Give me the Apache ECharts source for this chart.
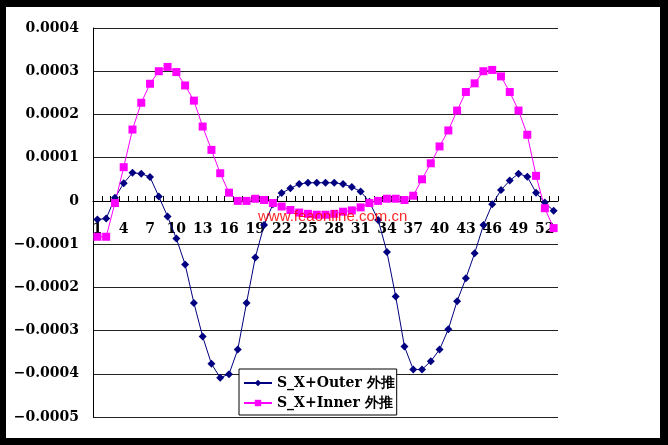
<!DOCTYPE html>
<html>
<head>
<meta charset="utf-8">
<script src="https://cdn.jsdelivr.net/npm/echarts@6/dist/echarts.min.js"></script>
<style>
html,body{margin:0;padding:0;background:#000;}
#chart{width:668px;height:445px;}
</style>
</head>
<body>
<div id="chart"></div>
<script>
const categories = [];
for (let i = 1; i <= 53; i++) categories.push(String(i));

const outerName = 'S_X+Outer 外推';
const innerName = 'S_X+Inner 外推';

const outerValues = [
  -0.000043, -0.000041, 0.000007, 0.000041, 0.000065, 0.000063, 0.000055, 0.000010, -0.000036, -0.000087,
  -0.000147, -0.000236, -0.000314, -0.000377, -0.000409, -0.000401, -0.000344, -0.000236, -0.000131, -0.000056,
  -0.000008, 0.000018, 0.000029, 0.000039, 0.000042, 0.000042, 0.000042, 0.000042, 0.000039, 0.000032,
  0.000022, -0.000002, -0.000044, -0.000118, -0.000221, -0.000337, -0.000390, -0.000390, -0.000371, -0.000344,
  -0.000297, -0.000232, -0.000179, -0.000121, -0.000056, -0.000008, 0.000025, 0.000047, 0.000063, 0.000056,
  0.000019, -0.000004, -0.000023
];

const innerValues = [
  -0.000083, -0.000083, -0.000005, 0.000078, 0.000165, 0.000227, 0.000271, 0.000300, 0.000310, 0.000298,
  0.000267, 0.000232, 0.000172, 0.000118, 0.000064, 0.000019, 0.000000, 0.000000, 0.000005, 0.000002,
  -0.000005, -0.000013, -0.000021, -0.000027, -0.000030, -0.000032, -0.000032, -0.000030, -0.000025, -0.000022,
  -0.000015, -0.000005, 0.000000, 0.000005, 0.000005, 0.000002, 0.000012, 0.000050, 0.000087, 0.000126,
  0.000163, 0.000209, 0.000252, 0.000272, 0.000300, 0.000303, 0.000288, 0.000252, 0.000209, 0.000153,
  0.000058, -0.000017, -0.000063
];

const watermark = 'www.feaonline.com.cn';

const Y_MIN = -0.0005, Y_MAX = 0.0004;
const GRID_TOP = 28, GRID_H = 389;

const chart = echarts.init(document.getElementById('chart'));
const labelFont = {fontFamily: 'DejaVu Serif', fontWeight: 'bold', fontSize: 14, color: '#000'};

chart.setOption({
  backgroundColor: '#000',
  animation: false,
  graphic: [
    {type: 'rect', left: 6, top: 7, z: -10, shape: {width: 654, height: 431}, style: {fill: '#fff'}},
    {type: 'text', left: 258, top: 209, z: 100,
     style: {text: watermark, fill: 'rgba(255,0,0,0.85)', font: '15px "Liberation Sans"'}}
  ],
  grid: {left: 93, top: GRID_TOP, width: 465, height: GRID_H},
  legend: {
    orient: 'vertical', left: 239, top: 369,
    backgroundColor: '#fff', borderColor: '#000', borderWidth: 1,
    padding: [7, 2, 5, 4], itemGap: 6, itemWidth: 28, itemHeight: 8,
    textStyle: {fontFamily: 'DejaVu Serif', fontWeight: 'bold', fontSize: 14, color: '#000'},
    data: [outerName, innerName]
  },
  xAxis: {
    type: 'category', data: categories, boundaryGap: true, position: 'bottom',
    offset: -Math.round(GRID_H * (0 - Y_MIN) / (Y_MAX - Y_MIN)),
    axisLine: {onZero: false, lineStyle: {color: '#000', width: 1}},
    axisTick: {show: true, inside: true, length: 5, interval: 0, lineStyle: {color: '#000'}},
    axisLabel: Object.assign({interval: 2, margin: 21}, labelFont),
    splitLine: {show: false}
  },
  yAxis: {
    type: 'value', min: Y_MIN, max: Y_MAX, interval: 0.0001,
    axisLine: {show: true, lineStyle: {color: '#000'}},
    axisTick: {show: false},
    splitLine: {show: true, lineStyle: {color: '#222', width: 1}},
    axisLabel: Object.assign({
      margin: 14, padding: [8, 0, 0, 0],
      formatter: v => Math.abs(v) < 1e-12 ? '0' : (v < 0 ? '\u2212' : '') + Math.abs(v).toFixed(4)
    }, labelFont)
  },
  series: [
    {name: outerName, type: 'line', data: outerValues, symbol: 'diamond', symbolSize: 8, showAllSymbol: true,
     itemStyle: {color: '#000080'}, lineStyle: {color: '#000080', width: 1}},
    {name: innerName, type: 'line', data: innerValues, symbol: 'rect', symbolSize: 8, showAllSymbol: true,
     itemStyle: {color: '#ff00ff'}, lineStyle: {color: '#ff00ff', width: 1}}
  ]
});
</script>
</body>
</html>
